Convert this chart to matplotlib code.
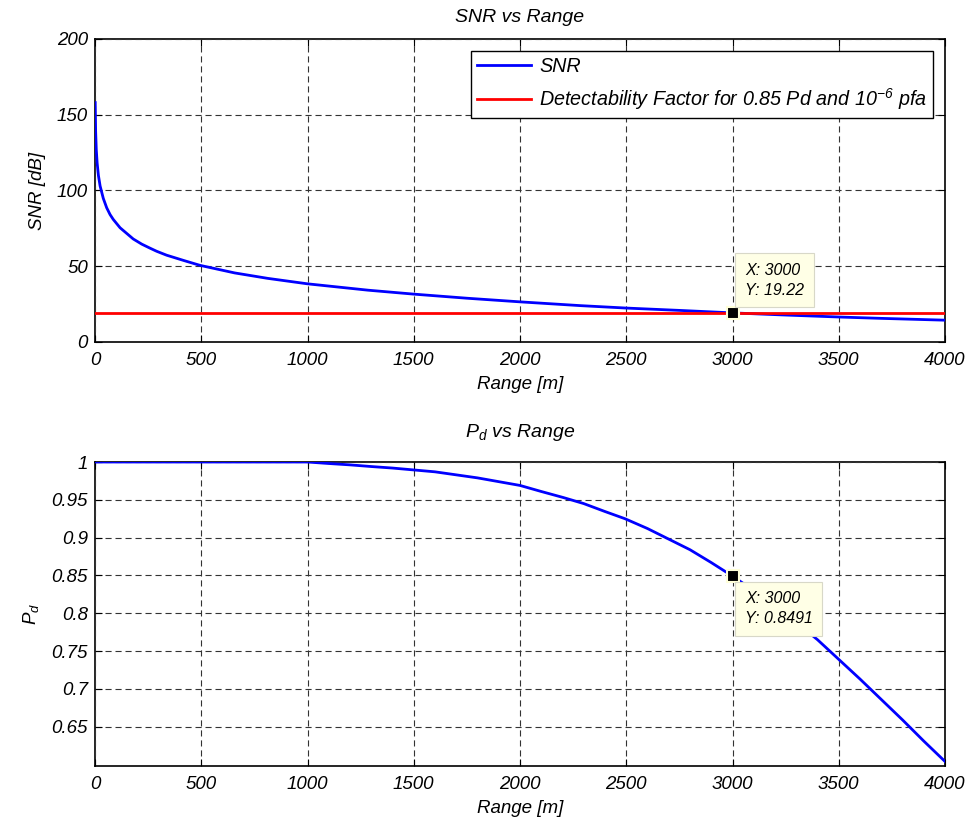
import matplotlib
matplotlib.use("Agg")
import matplotlib.pyplot as plt

plt.rcParams["font.family"] = ["Liberation Sans", "DejaVu Sans"]
plt.rcParams["font.style"] = "italic"
plt.rcParams["mathtext.fontset"] = "custom"
plt.rcParams["mathtext.rm"] = "Liberation Sans:italic"
plt.rcParams["mathtext.it"] = "Liberation Sans:italic"

# datos
range_snr = [1, 3, 6, 10, 16, 24, 39, 55, 71, 86, 118, 180, 220, 258, 290, 337,
             420, 494, 657, 813, 1000, 1285, 1500, 1750, 2000, 2285, 2500, 2760,
             3000, 3230, 3500, 3700, 4000]
snr_db = [158, 139, 127, 118.3, 110, 103, 94.8, 88.6, 84.1, 80.9, 75.4, 68.0,
          64.6, 62.0, 59.9, 57.3, 53.7, 50.6, 45.6, 42.0, 38.4, 34.2, 31.6, 28.9,
          26.5, 24.0, 22.4, 20.8, 19.22, 17.9, 16.5, 15.6, 14.4]
detect_factor = 19.22

range_pd = [0, 500, 1000, 1100, 1200, 1300, 1400, 1500, 1600, 1700, 1800, 1900,
            2000, 2100, 2204, 2300, 2400, 2494, 2600, 2700, 2800, 2900, 3000,
            3100, 3200, 3300, 3400, 3500, 3600, 3700, 3800, 3900, 4000]
pd_vals = [1.0, 1.0, 1.0, 0.998, 0.9962, 0.994, 0.992, 0.9895, 0.987, 0.983,
           0.979, 0.974, 0.969, 0.961, 0.953, 0.945, 0.9345, 0.925, 0.912, 0.898,
           0.884, 0.867, 0.8491, 0.830, 0.810, 0.788, 0.765, 0.739, 0.713, 0.686,
           0.659, 0.631, 0.604]

tip_x = 3000
tip_snr = 19.22
tip_pd = 0.8491

x_ticks = [0, 500, 1000, 1500, 2000, 2500, 3000, 3500, 4000]
snr_ticks = [0, 50, 100, 150, 200]
pd_ticks = [0.65, 0.7, 0.75, 0.8, 0.85, 0.9, 0.95, 1]

FS = 13.5
GRID_KW = dict(color="#333333", linestyle=(0, (5.5, 3.5)), linewidth=0.8)


def style_axes(ax):
    ax.tick_params(direction="in", top=True, right=True, length=5,
                   labelsize=FS, width=0.8)
    ax.tick_params(axis="x", pad=7)
    ax.tick_params(axis="y", pad=5)
    for s in ax.spines.values():
        s.set_linewidth(1.2)
    ax.grid(True, **GRID_KW)
    ax.set_axisbelow(False)


def data_tip(ax, x, y, txt, offset, va):
    ax.plot([x], [y], marker="s", ms=9, mfc="black", mec="#FFFFD8",
            mew=1.5, zorder=6, clip_on=False)
    ax.annotate(txt, xy=(x, y), xytext=offset, textcoords="offset points",
                ha="left", va=va, fontsize=11.5, linespacing=1.4,
                bbox=dict(boxstyle="square,pad=0.6", fc="#FFFFE6",
                          ec="#D8D8C8", lw=0.8), zorder=7)


fig = plt.figure(figsize=(9.71, 8.21), dpi=100)
ax1 = fig.add_axes([95 / 971, 1 - 342 / 821, 850 / 971, 303 / 821])
ax2 = fig.add_axes([95 / 971, 1 - 766 / 821, 850 / 971, 304 / 821])

# --- SNR vs Range ---
ax1.plot(range_snr, snr_db, color="#0000FF", lw=2.0, label="SNR", zorder=3)
ax1.plot([0, 4000], [detect_factor, detect_factor], color="#FF0000", lw=2.0,
         label=r"Detectability Factor for 0.85 Pd and 10$^{-6}$ pfa", zorder=3)
ax1.set_xlim(0, 4000)
ax1.set_ylim(0, 200)
ax1.set_xticks(x_ticks)
ax1.set_yticks(snr_ticks)
ax1.set_xticklabels([f"{v:g}" for v in x_ticks])
ax1.set_yticklabels([f"{v:g}" for v in snr_ticks])
style_axes(ax1)
ax1.set_title("SNR vs Range", fontsize=14, pad=12)
ax1.set_xlabel("Range [m]", fontsize=FS, labelpad=5)
ax1.set_ylabel("SNR [dB]", fontsize=FS, labelpad=8)
leg = ax1.legend(loc="upper right", fontsize=14.2, handlelength=2.7,
                 handletextpad=0.45, labelspacing=0.55, borderaxespad=0.6,
                 fancybox=False, framealpha=1, edgecolor="black",
                 borderpad=0.3)
leg.get_frame().set_linewidth(1.0)
data_tip(ax1, tip_x, tip_snr, f"X: {tip_x}\nY: {tip_snr}", (9, 11), "bottom")

# --- Pd vs Range ---
ax2.plot(range_pd, pd_vals, color="#0000FF", lw=2.0, zorder=3)
ax2.set_xlim(0, 4000)
ax2.set_ylim(0.598, 1.0)
ax2.set_xticks(x_ticks)
ax2.set_yticks(pd_ticks)
ax2.set_xticklabels([f"{v:g}" for v in x_ticks])
ax2.set_yticklabels([f"{v:g}" for v in pd_ticks])
style_axes(ax2)
ax2.set_title(r"$P_d$ vs Range", fontsize=14, pad=18)
ax2.set_xlabel("Range [m]", fontsize=FS, labelpad=5)
ax2.set_ylabel(r"$P_d$", fontsize=FS, labelpad=8)
data_tip(ax2, tip_x, tip_pd, f"X: {tip_x}\nY: {tip_pd}", (9, -11), "top")

fig.savefig("out.png", dpi=100)
